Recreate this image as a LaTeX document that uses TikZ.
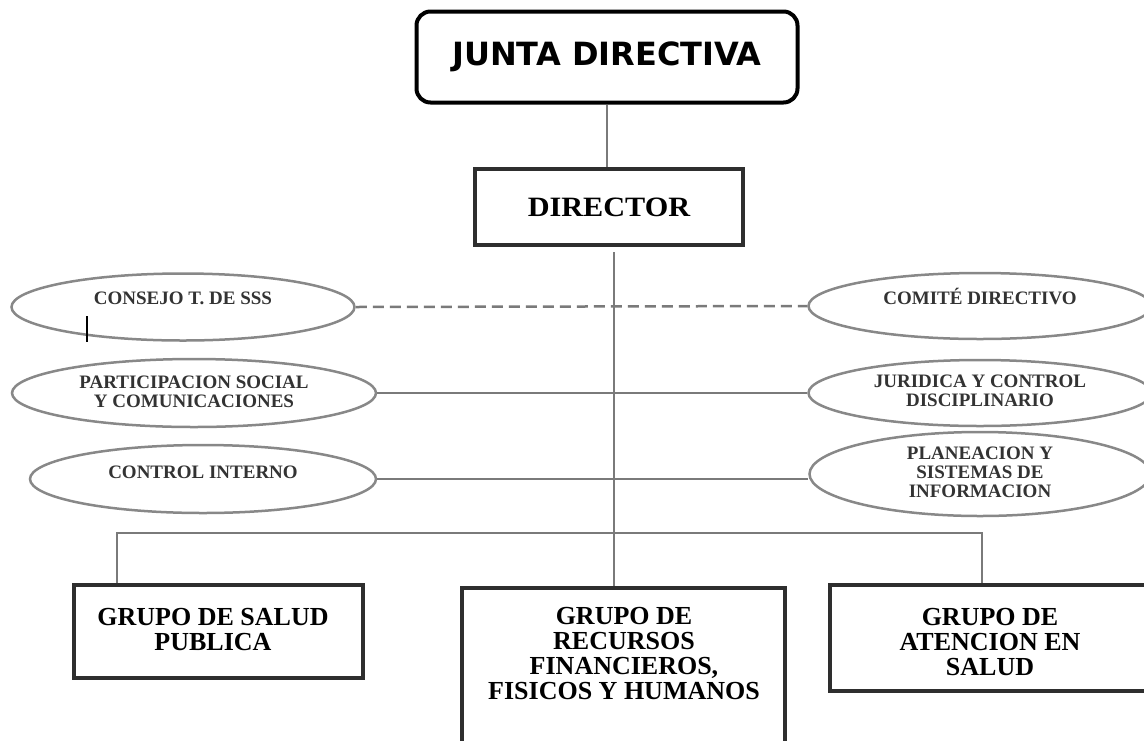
\documentclass[tikz,border=0pt]{standalone}
\usepackage{fontspec}
\newfontfamily\jdfont{DejaVu Sans}
\newfontfamily\tmwfont[FakeStretch=1.08]{Liberation Serif}
\newfontfamily\tmgfont{Liberation Serif}
\usetikzlibrary{shapes.geometric}
\definecolor{linegray}{HTML}{7A7A7A}
\definecolor{ellgray}{HTML}{888888}
\definecolor{boxdark}{HTML}{2E2E2E}
\definecolor{etextc}{HTML}{333333}
\begin{document}
\begin{tikzpicture}[x=1pt,y=-1pt,
  conn/.style={draw=linegray,line width=2.5pt},
  dashconn/.style={draw=linegray,line width=2.5pt,dash pattern=on 11pt off 6pt},
  ell/.style={ellipse,draw=ellgray,line width=2.5pt,inner sep=0pt},
  etext/.style={font=\tmgfont\bfseries\fontsize{19}{19}\selectfont,text=etextc,align=center,inner sep=0pt},
  gbox/.style={rectangle,draw=boxdark,line width=4pt,inner sep=0pt},
  gtext/.style={font=\tmgfont\bfseries\fontsize{26}{25}\selectfont,align=center,inner sep=0pt}]
\path[use as bounding box,clip] (0,0) rectangle (1144,740);
\fill[white] (0,0) rectangle (1144,740);

% top
\node[draw=black,line width=4pt,rounded corners=14pt,minimum width=381pt,minimum height=91pt,inner sep=0pt,
      font=\jdfont\bfseries\fontsize{32}{32}\selectfont] (junta) at (607,57) {JUNTA DIRECTIVA};
\node[gbox,minimum width=268pt,minimum height=76pt,font=\tmwfont\bfseries\fontsize{28}{28}\selectfont] (dir) at (609,207) {DIRECTOR};
\draw[conn] (junta.south) -- (junta.south |- dir.north);

% ellipses
\node[ell,minimum width=343pt,minimum height=67pt] (e1) at (183,307) {};
\node[etext] (t1) at (183,298) {CONSEJO T. DE SSS};
\node[ell,minimum width=364pt,minimum height=68pt] (e2) at (194,393) {};
\node[etext] (t2) at (194,392) {PARTICIPACION SOCIAL\\Y COMUNICACIONES};
\node[ell,minimum width=346pt,minimum height=68pt] (e3) at (203,479) {};
\node[etext] (t3) at (203,472) {CONTROL INTERNO};
\node[ell,minimum width=343pt,minimum height=66pt] (e4) at (980,306) {};
\node[etext] (t4) at (980,296) {COMITÉ DIRECTIVO};
\node[ell,minimum width=343pt,minimum height=66pt] (e5) at (980,393) {};
\node[etext] (t5) at (980,391) {JURIDICA Y CONTROL\\DISCIPLINARIO};
\node[ell,minimum width=341pt,minimum height=84pt] (e6) at (980,474) {};
\node[etext] (t6) at (980,472) {PLANEACION Y\\SISTEMAS DE\\INFORMACION};

\draw[dashconn] (e1.east) -- (e4.west);
\draw[conn] (e2.east) -- (e5.west);
\draw[conn] (e3.east) -- (e3.east -| e6.west);

\coordinate (tick) at (87,316);
\draw[black,line width=2.5pt] (tick) -- (tick |- e1.south);

% groups
\node[gbox,minimum width=289pt,minimum height=93pt] (left) at (218.5,631.5) {};
\node[gtext] (lt) at (213,630) {GRUPO DE SALUD\\PUBLICA};
\node[gbox,minimum width=323pt,minimum height=220pt,anchor=north] (mid) at (623.5,586) {};
\node[gtext] (mt) at (624,654) {GRUPO DE\\RECURSOS\\FINANCIEROS,\\FISICOS Y HUMANOS};
\node[gbox,minimum width=320pt,minimum height=106pt] (right) at (990,638) {};
\node[gtext] (rt) at (990,642) {GRUPO DE\\ATENCION EN\\SALUD};

% trunk and bus
\coordinate (trunk) at (614,252);
\coordinate (busL) at (117,533);
\coordinate (busR) at (982,533);
\draw[conn] (trunk) -- (trunk |- mid.north);
\draw[conn] (busL |- left.north) -- (busL) -- (busR) -- (busR |- right.north);
\end{tikzpicture}
\end{document}
